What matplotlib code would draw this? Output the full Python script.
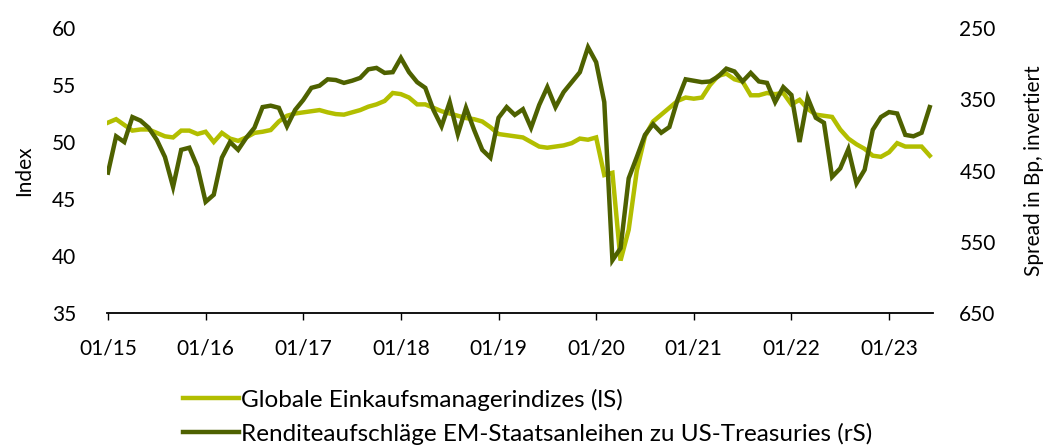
import matplotlib
matplotlib.use("Agg")
import matplotlib.pyplot as plt
import numpy as np

plt.rcParams["font.family"] = ["Lato", "DejaVu Sans"]

# monthly, 01/2015 .. 06/2023
pmi = [51.7, 52.0, 51.5, 51.0, 51.1, 51.1, 50.8, 50.5, 50.4, 51.0, 51.0, 50.7,
       50.9, 50.0, 50.8, 50.3, 50.1, 50.4, 50.8, 50.9, 51.05, 51.8, 52.3, 52.5,
       52.6, 52.7, 52.8, 52.6, 52.45, 52.4, 52.6, 52.8, 53.1, 53.3, 53.6, 54.3,
       54.2, 53.9, 53.3, 53.3, 53.0, 52.7, 52.5, 52.3, 52.1, 52.0, 51.8, 51.3,
       50.7, 50.6, 50.5, 50.4, 50.0, 49.6, 49.5, 49.6, 49.7, 49.9, 50.3, 50.2,
       50.4, 47.1, 47.3, 39.6, 42.3, 47.5, 50.5, 51.8, 52.4, 53.0, 53.6, 53.9,
       53.8, 53.9, 55.0, 55.8, 56.0, 55.5, 55.3, 54.1, 54.1, 54.3, 54.2, 54.3,
       53.3, 53.7, 52.9, 52.4, 52.3, 52.2, 51.1, 50.3, 49.8, 49.4, 48.8, 48.7,
       49.1, 49.9, 49.6, 49.6, 49.6, 48.8]

spread = [453, 402, 410, 375, 380, 390, 407, 431, 473, 421, 418, 445,
          494, 484, 432, 410, 421, 404, 390, 361, 359, 362, 388, 365,
          351, 334, 331, 322, 323, 327, 324, 320, 308, 306, 313, 312,
          292, 312, 326, 334, 365, 388, 354, 399, 362, 393, 421, 432,
          376, 361, 372, 364, 390, 358, 333, 361, 340, 326, 312, 277,
          298, 354, 576, 559, 461, 431, 400, 385, 397, 389, 351, 322,
          324, 326, 325, 318, 307, 311, 325, 313, 325, 327, 354, 333,
          344, 410, 348, 376, 383, 459, 447, 420, 468, 449, 393, 375,
          368, 370, 400, 402, 397, 361]

tick_labels = ["01/15", "01/16", "01/17", "01/18", "01/19",
               "01/20", "01/21", "01/22", "01/23"]

LIGHT = "#B2BE00"
DARK = "#4E6100"
FS = 15

x = np.arange(len(pmi))

fig = plt.figure(figsize=(10.45, 4.46), dpi=100)
ax = fig.add_axes([0.1024, 0.2982, 0.7904, 0.639])
ax2 = ax.twinx()

l1, = ax.plot(x, pmi, color=LIGHT, lw=3.2, solid_joinstyle="miter")
l2, = ax2.plot(x, spread, color=DARK, lw=3.2, solid_joinstyle="miter")

ax.set_xlim(-0.12, 101.4)
ax.set_ylim(35, 60)
ax.set_yticks([35, 40, 45, 50, 55, 60])
ax2.set_ylim(650, 250)
ax2.set_yticks([250, 350, 450, 550, 650])

ax.set_xticks(np.arange(0, 97, 12))
ax.set_xticklabels(tick_labels)

for a in (ax, ax2):
    for s in ("top", "left", "right"):
        a.spines[s].set_visible(False)
ax2.spines["bottom"].set_visible(False)
ax.spines["bottom"].set_linewidth(1.3)

ax.tick_params(axis="x", length=5, width=1, pad=13, labelsize=FS)
ax.tick_params(axis="y", length=0, pad=22, labelsize=FS)
ax2.tick_params(axis="y", length=0, pad=19, labelsize=FS)

ax.set_ylabel("Index", fontsize=FS, labelpad=13)
ax2.set_ylabel("Spread in Bp, invertiert", fontsize=FS, labelpad=20)

fig.legend([l1, l2],
           ["Globale Einkaufsmanagerindizes (lS)",
            "Renditeaufschläge EM-Staatsanleihen zu US-Treasuries (rS)"],
           loc="upper left", bbox_to_anchor=(0.175, 0.128),
           frameon=False, fontsize=17.5, handlelength=2.3, handletextpad=0.1,
           labelspacing=0.48, borderpad=0, borderaxespad=0)

fig.savefig("out.png", dpi=100)
